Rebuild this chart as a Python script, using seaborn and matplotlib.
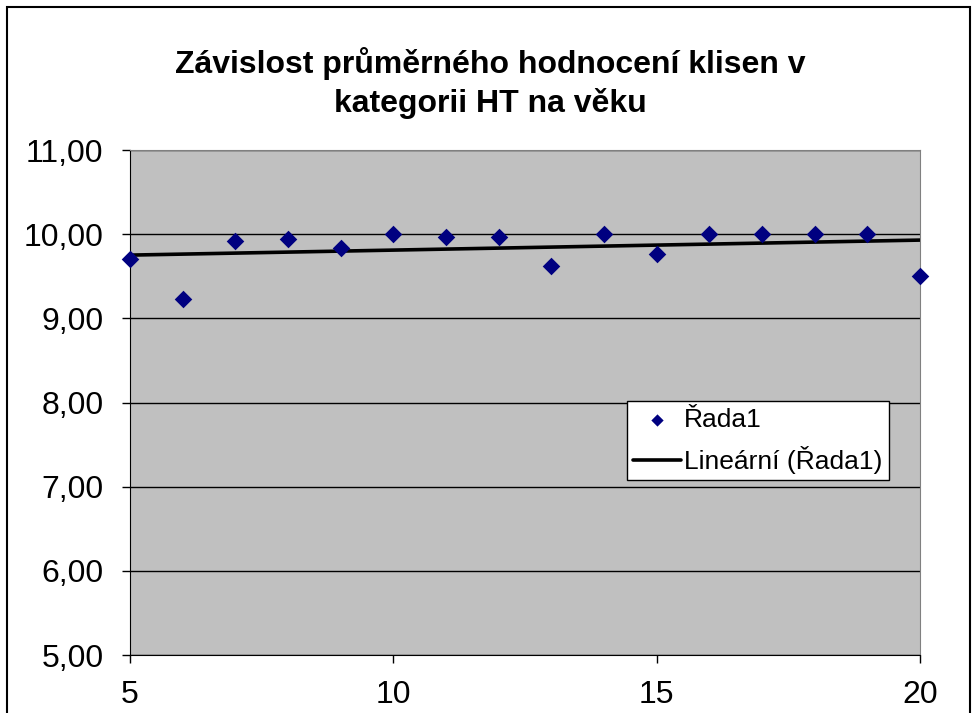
import matplotlib.pyplot as plt
import matplotlib as mpl
import seaborn as sns
import pandas as pd
from matplotlib.patches import Rectangle
from matplotlib.ticker import FuncFormatter

# data
vek = [5, 6, 7, 8, 9, 10, 11, 12, 13, 14, 15, 16, 17, 18, 19, 20]
hodnoceni = [9.70, 9.23, 9.92, 9.94, 9.84, 10.00, 9.97, 9.97, 9.62, 10.00,
             9.76, 10.00, 10.00, 10.00, 10.00, 9.50]
x_ticks = [5, 10, 15, 20]
y_ticks = [5, 6, 7, 8, 9, 10, 11]

df = pd.DataFrame({'vek': vek, 'hodnoceni': hodnoceni})

sns.set_style('white')
plt.rcParams['font.family'] = ['Liberation Sans', 'DejaVu Sans']
plt.rcParams['text.color'] = 'black'
plt.rcParams['xtick.color'] = 'black'
plt.rcParams['ytick.color'] = 'black'

fig = plt.figure(figsize=(9.76, 7.13), dpi=100)
ax = fig.add_axes([0.1332, 0.0813, 0.8094, 0.7083])
ax.set_facecolor('#C0C0C0')

# body + linear trendline (fit done by seaborn)
sns.regplot(data=df, x='vek', y='hodnoceni', ax=ax, ci=None, marker='D',
            scatter_kws={'s': 80, 'color': '#000080', 'alpha': 1,
                         'clip_on': False, 'zorder': 4, 'linewidths': 0},
            line_kws={'color': 'black', 'lw': 2.6, 'zorder': 3})

ax.collections[0].set_label('Řada1')
ax.lines[0].set_label('Lineární (Řada1)')

ax.set_xlim(5, 20)
ax.set_ylim(5, 11)
ax.set_xticks(x_ticks)
ax.set_yticks(y_ticks)
ax.yaxis.set_major_formatter(FuncFormatter(lambda v, p: f'{v:.2f}'.replace('.', ',')))
ax.set_xlabel('')
ax.set_ylabel('')
ax.grid(axis='y', color='black', lw=1)
ax.set_axisbelow(True)
ax.tick_params(axis='both', direction='out', length=6, width=1, color='black',
               labelsize=23, left=True, bottom=True)
ax.tick_params(axis='y', pad=13)
ax.tick_params(axis='x', pad=12)
for s in ['top', 'right']:
    ax.spines[s].set_color('#808080')
for s in ['left', 'bottom']:
    ax.spines[s].set_color('black')

leg = ax.legend(handles=[ax.collections[0], ax.lines[0]],
                loc='upper left', bbox_to_anchor=(0.629, 0.503), borderaxespad=0,
                fontsize=19, frameon=True, fancybox=False, edgecolor='black',
                framealpha=1, handlelength=1.8, handletextpad=0.1,
                borderpad=0.25, labelspacing=0.54, markerscale=0.7)
leg.get_frame().set_linewidth(1)

fig.text(0.502, 0.884, 'Závislost průměrného hodnocení klisen v\nkategorii HT na věku',
         ha='center', va='center', fontsize=23, fontweight='bold', linespacing=1.32)

# outer chart border
fig.patches.append(Rectangle((7 / 976, -0.02), 963 / 976, 1.02 - 7 / 713,
                             transform=fig.transFigure, fill=False,
                             edgecolor='black', lw=1.5))

plt.savefig('out.png', dpi=100)
